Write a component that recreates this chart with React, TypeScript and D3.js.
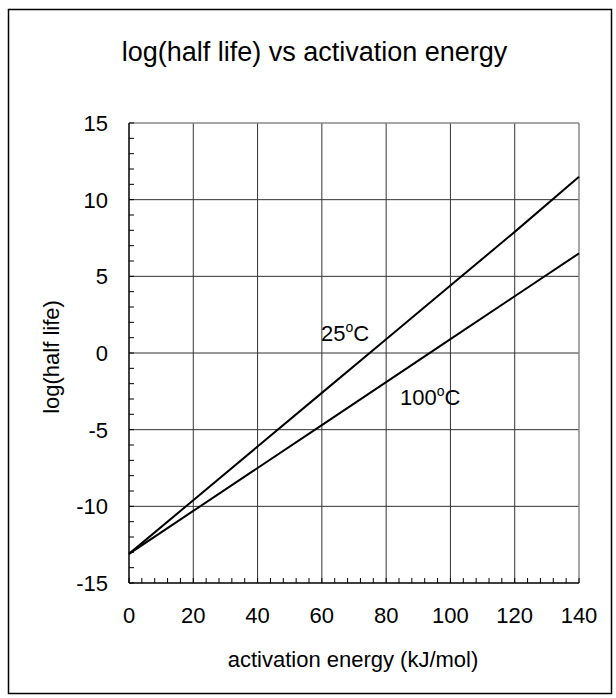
import React from "react";
import * as d3 from "d3";

const energies = [0, 20, 40, 60, 80, 100, 120, 140];
const logHalfLife25 = [-13.1, -9.6, -6.1, -2.6, 0.9, 4.4, 7.9, 11.5];
const logHalfLife100 = [-13.1, -10.3, -7.5, -4.7, -1.9, 0.9, 3.7, 6.5];
const xTicks = [0, 20, 40, 60, 80, 100, 120, 140];
const yTicks = [15, 10, 5, 0, -5, -10, -15];
const title = "log(half life) vs activation energy";
const xTitle = "activation energy (kJ/mol)";
const yTitle = "log(half life)";

const W = 616;
const H = 698;
const left = 129;
const right = 579;
const top = 123;
const bottom = 583;
const FONT = "Liberation Sans, Arial, sans-serif";

export default function App() {
  const x = d3.scaleLinear().domain([0, 140]).range([left, right]);
  const y = d3.scaleLinear().domain([-15, 15]).range([bottom, top]);
  const line = d3
    .line<[number, number]>()
    .x((d) => x(d[0]))
    .y((d) => y(d[1]));
  const s25 = energies.map((e, i) => [e, logHalfLife25[i]] as [number, number]);
  const s100 = energies.map((e, i) => [e, logHalfLife100[i]] as [number, number]);
  const xMinor = d3.range(0, 141, 4);
  const yMinor = d3.range(-15, 16, 1);

  return (
    <svg
      width={W}
      height={H}
      style={{ position: "absolute", left: 0, top: 0, background: "#fff" }}
      fontFamily={FONT}
    >
      <rect x={8.5} y={9.5} width={603} height={684} fill="#fff" stroke="#000" strokeWidth={1.5} />
      <text x={314.5} y={61} textAnchor="middle" fontSize={27} fill="#000">
        {title}
      </text>
      {/* grid */}
      {xTicks.slice(1, -1).map((t) => (
        <line key={"gx" + t} x1={x(t)} x2={x(t)} y1={top} y2={bottom} stroke="#333" strokeWidth={1} />
      ))}
      {yTicks.slice(1, -1).map((t) => (
        <line key={"gy" + t} x1={left} x2={right} y1={y(t)} y2={y(t)} stroke="#333" strokeWidth={1} />
      ))}
      {/* plot border */}
      <line x1={left} x2={right} y1={top} y2={top} stroke="#888" strokeWidth={1.5} />
      <line x1={right} x2={right} y1={top} y2={bottom} stroke="#888" strokeWidth={1.5} />
      {/* minor ticks */}
      {xMinor.map((t) => (
        <line key={"mx" + t} x1={x(t)} x2={x(t)} y1={bottom} y2={bottom - 5} stroke="#000" strokeWidth={1} />
      ))}
      {yMinor.map((t) => (
        <line key={"my" + t} x1={left} x2={left + 5} y1={y(t)} y2={y(t)} stroke="#000" strokeWidth={1} />
      ))}
      {/* axes */}
      <line x1={left} x2={left} y1={top} y2={bottom} stroke="#000" strokeWidth={1.5} />
      <line x1={left} x2={right} y1={bottom} y2={bottom} stroke="#000" strokeWidth={1.5} />
      {/* series */}
      <path d={line(s25) || ""} fill="none" stroke="#000" strokeWidth={2} />
      <path d={line(s100) || ""} fill="none" stroke="#000" strokeWidth={2} />
      {/* tick labels */}
      {xTicks.map((t) => (
        <text key={"xl" + t} x={x(t)} y={bottom + 40} textAnchor="middle" fontSize={22} fill="#000">
          {t}
        </text>
      ))}
      {yTicks.map((t) => (
        <text key={"yl" + t} x={left - 21} y={y(t) + 8} textAnchor="end" fontSize={22} fill="#000">
          {t}
        </text>
      ))}
      <text x={353} y={667} textAnchor="middle" fontSize={22} fill="#000">
        {xTitle}
      </text>
      <text
        transform={`translate(${59},${357}) rotate(-90)`}
        textAnchor="middle"
        fontSize={22}
        fill="#000"
      >
        {yTitle}
      </text>
      <text x={321} y={341} fontSize={22} fill="#000">
        25<tspan fontSize={14} dy={-9}>o</tspan>
        <tspan dy={9}>C</tspan>
      </text>
      <text x={400} y={405} fontSize={22} fill="#000">
        100<tspan fontSize={14} dy={-9}>o</tspan>
        <tspan dy={9}>C</tspan>
      </text>
    </svg>
  );
}
